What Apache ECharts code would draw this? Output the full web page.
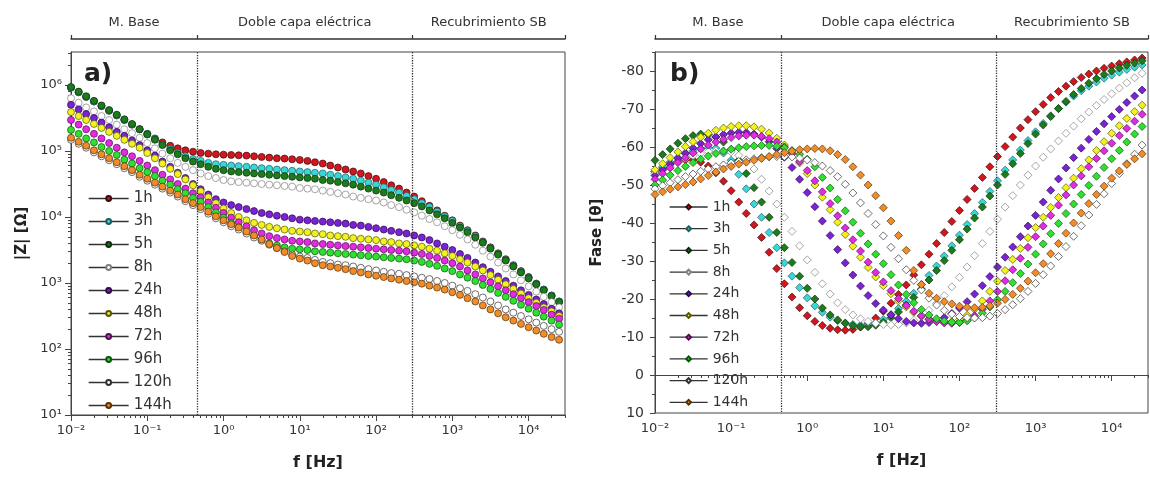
<!DOCTYPE html>
<html>
<head>
<meta charset="utf-8">
<script src="https://cdn.jsdelivr.net/npm/echarts@6/dist/echarts.min.js"></script>
<style>
  html, body { margin: 0; padding: 0; background: #fff; }
  #chart { width: 1150px; height: 486px; }
</style>
</head>
<body>
<div id="chart"></div>
<script>
// frecuencias medidas (Hz), 10 puntos por decada
const freq = [
  0.01, 0.0126, 0.0158, 0.02, 0.0251, 0.0316, 0.0398, 0.0501, 0.0631, 0.0794,
  0.1, 0.126, 0.158, 0.2, 0.251, 0.316, 0.398, 0.501, 0.631, 0.794,
  1, 1.26, 1.58, 2, 2.51, 3.16, 3.98, 5.01, 6.31, 7.94,
  10, 12.6, 15.8, 20, 25.1, 31.6, 39.8, 50.1, 63.1, 79.4,
  100, 126, 158, 200, 251, 316, 398, 501, 631, 794,
  1000, 1260, 1580, 2000, 2510, 3160, 3980, 5010, 6310, 7940,
  10000, 12600, 15800, 20000, 25100
];

const names = ['1h', '3h', '5h', '8h', '24h', '48h', '72h', '96h', '120h', '144h'];

// log10 |Z| (ohm) leidos de la figura a)
const logZ_1h = [
  5.96, 5.89, 5.82, 5.75, 5.68, 5.61, 5.54, 5.47, 5.40, 5.33,
  5.26, 5.19, 5.13, 5.08, 5.04, 5.01, 4.99, 4.97, 4.96, 4.95,
  4.945, 4.94, 4.935, 4.93, 4.92, 4.91, 4.90, 4.89, 4.885, 4.875,
  4.865, 4.85, 4.83, 4.81, 4.78, 4.75, 4.72, 4.69, 4.66, 4.62,
  4.58, 4.53, 4.48, 4.43, 4.37, 4.31, 4.24, 4.17, 4.10, 4.02,
  3.95, 3.87, 3.80, 3.72, 3.63, 3.54, 3.45, 3.36, 3.27, 3.18,
  3.09, 2.99, 2.90, 2.81, 2.72
];
const logZ_3h = [
  5.96, 5.89, 5.82, 5.75, 5.68, 5.61, 5.54, 5.47, 5.40, 5.33,
  5.26, 5.18, 5.10, 5.03, 4.97, 4.92, 4.88, 4.85, 4.82, 4.80,
  4.79, 4.78, 4.77, 4.76, 4.75, 4.74, 4.73, 4.72, 4.71, 4.70,
  4.69, 4.68, 4.67, 4.66, 4.64, 4.62, 4.60, 4.58, 4.55, 4.52,
  4.49, 4.45, 4.41, 4.37, 4.32, 4.27, 4.21, 4.15, 4.08, 4.01,
  3.94, 3.86, 3.79, 3.71, 3.62, 3.53, 3.44, 3.35, 3.26, 3.17,
  3.08, 2.99, 2.90, 2.81, 2.72
];
const logZ_5h = [
  5.97, 5.90, 5.83, 5.76, 5.69, 5.62, 5.55, 5.48, 5.41, 5.33,
  5.25, 5.17, 5.09, 5.01, 4.95, 4.89, 4.84, 4.80, 4.76, 4.73,
  4.71, 4.69, 4.68, 4.67, 4.66, 4.65, 4.64, 4.63, 4.62, 4.61,
  4.60, 4.59, 4.58, 4.56, 4.55, 4.53, 4.51, 4.49, 4.46, 4.43,
  4.40, 4.37, 4.33, 4.29, 4.25, 4.21, 4.16, 4.10, 4.04, 3.98,
  3.91, 3.84, 3.77, 3.69, 3.61, 3.52, 3.43, 3.34, 3.25, 3.16,
  3.07, 2.98, 2.89, 2.80, 2.71
];
const logZ_8h = [
  5.80, 5.73, 5.66, 5.60, 5.53, 5.47, 5.40, 5.33, 5.27, 5.20,
  5.12, 5.04, 4.96, 4.89, 4.82, 4.76, 4.71, 4.66, 4.62, 4.59,
  4.56, 4.54, 4.53, 4.52, 4.51, 4.50, 4.49, 4.48, 4.47, 4.46,
  4.44, 4.43, 4.42, 4.40, 4.38, 4.36, 4.34, 4.31, 4.29, 4.27,
  4.25, 4.22, 4.18, 4.15, 4.11, 4.07, 4.02, 3.97, 3.92, 3.86,
  3.80, 3.73, 3.66, 3.58, 3.49, 3.40, 3.31, 3.22, 3.13, 3.04,
  2.95, 2.87, 2.79, 2.71, 2.63
];
const logZ_24h = [
  5.70, 5.63, 5.56, 5.50, 5.43, 5.36, 5.29, 5.23, 5.16, 5.09,
  5.01, 4.93, 4.84, 4.76, 4.67, 4.59, 4.50, 4.42, 4.34, 4.27,
  4.22, 4.18, 4.15, 4.12, 4.09, 4.06, 4.04, 4.02, 4.00, 3.98,
  3.96, 3.95, 3.94, 3.93, 3.92, 3.91, 3.90, 3.88, 3.87, 3.85,
  3.83, 3.81, 3.79, 3.77, 3.75, 3.72, 3.69, 3.65, 3.60, 3.55,
  3.50, 3.44, 3.38, 3.31, 3.24, 3.17, 3.10, 3.03, 2.96, 2.89,
  2.82, 2.75, 2.68, 2.61, 2.54
];
const logZ_48h = [
  5.59, 5.53, 5.47, 5.41, 5.35, 5.29, 5.23, 5.17, 5.11, 5.05,
  4.97, 4.89, 4.81, 4.73, 4.65, 4.57, 4.48, 4.39, 4.30, 4.21,
  4.13, 4.06, 4.00, 3.95, 3.91, 3.88, 3.85, 3.83, 3.81, 3.79,
  3.78, 3.77, 3.75, 3.74, 3.72, 3.71, 3.70, 3.68, 3.67, 3.66,
  3.65, 3.63, 3.62, 3.60, 3.59, 3.57, 3.55, 3.52, 3.49, 3.45,
  3.41, 3.36, 3.31, 3.25, 3.19, 3.12, 3.05, 2.98, 2.91, 2.84,
  2.77, 2.70, 2.63, 2.57, 2.50
];
const logZ_72h = [
  5.47, 5.40, 5.33, 5.26, 5.19, 5.12, 5.05, 4.98, 4.92, 4.85,
  4.78, 4.71, 4.64, 4.57, 4.50, 4.43, 4.36, 4.30, 4.22, 4.14,
  4.06, 3.99, 3.92, 3.86, 3.80, 3.75, 3.71, 3.68, 3.66, 3.64,
  3.63, 3.62, 3.60, 3.59, 3.58, 3.57, 3.56, 3.55, 3.54, 3.53,
  3.52, 3.51, 3.50, 3.49, 3.48, 3.46, 3.44, 3.41, 3.38, 3.34,
  3.30, 3.25, 3.19, 3.13, 3.07, 3.01, 2.95, 2.89, 2.83, 2.77,
  2.71, 2.65, 2.59, 2.52, 2.46
];
const logZ_96h = [
  5.32, 5.26, 5.19, 5.13, 5.06, 5.00, 4.94, 4.87, 4.81, 4.74,
  4.68, 4.62, 4.55, 4.49, 4.42, 4.36, 4.29, 4.23, 4.15, 4.07,
  3.99, 3.91, 3.84, 3.77, 3.71, 3.65, 3.60, 3.57, 3.54, 3.52,
  3.51, 3.50, 3.48, 3.47, 3.46, 3.45, 3.44, 3.43, 3.42, 3.41,
  3.40, 3.39, 3.38, 3.37, 3.36, 3.34, 3.32, 3.29, 3.26, 3.22,
  3.18, 3.13, 3.08, 3.03, 2.97, 2.91, 2.85, 2.79, 2.73, 2.67,
  2.61, 2.55, 2.49, 2.43, 2.37
];
const logZ_120h = [
  5.17, 5.11, 5.05, 4.98, 4.92, 4.86, 4.80, 4.74, 4.68, 4.61,
  4.55, 4.49, 4.43, 4.37, 4.31, 4.24, 4.18, 4.12, 4.05, 3.98,
  3.92, 3.86, 3.81, 3.75, 3.69, 3.64, 3.58, 3.53, 3.48, 3.43,
  3.40, 3.38, 3.35, 3.32, 3.30, 3.28, 3.27, 3.25, 3.23, 3.21,
  3.19, 3.17, 3.15, 3.14, 3.12, 3.10, 3.08, 3.06, 3.03, 3.00,
  2.96, 2.92, 2.88, 2.83, 2.78, 2.72, 2.66, 2.60, 2.55, 2.50,
  2.45, 2.40, 2.35, 2.30, 2.26
];
const logZ_144h = [
  5.20, 5.14, 5.08, 5.01, 4.95, 4.89, 4.83, 4.77, 4.71, 4.64,
  4.58, 4.52, 4.46, 4.40, 4.34, 4.27, 4.21, 4.15, 4.08, 4.01,
  3.95, 3.89, 3.84, 3.78, 3.72, 3.66, 3.59, 3.53, 3.47, 3.41,
  3.37, 3.34, 3.30, 3.27, 3.25, 3.23, 3.21, 3.18, 3.16, 3.13,
  3.11, 3.09, 3.07, 3.05, 3.03, 3.01, 2.99, 2.96, 2.93, 2.90,
  2.86, 2.82, 2.77, 2.72, 2.66, 2.60, 2.54, 2.48, 2.43, 2.38,
  2.33, 2.28, 2.23, 2.18, 2.14
];

// fase (grados) leida de la figura b)
const fase_1h = [
  -53.5, -54.5, -55.5, -56.2, -56.6, -56.6, -56.0, -55.0, -53.2, -51.0,
  -48.5, -45.5, -42.5, -39.5, -36.2, -32.3, -28.0, -24.0, -20.5, -17.7,
  -15.6, -14.1, -13.0, -12.3, -11.9, -11.8, -12.0, -12.6, -13.6, -15.0,
  -16.8, -18.9, -21.2, -23.7, -26.3, -29.0, -31.8, -34.6, -37.5, -40.4,
  -43.3, -46.2, -49.1, -52.0, -54.8, -57.5, -60.1, -62.6, -65.0, -67.2,
  -69.3, -71.2, -73.0, -74.6, -76.0, -77.2, -78.3, -79.2, -80.0, -80.7,
  -81.3, -81.9, -82.4, -82.9, -83.4
];
const fase_3h = [
  -53.5, -54.8, -56.0, -57.2, -58.2, -59.0, -59.6, -59.9, -59.7, -58.4,
  -56.5, -52.8, -49.0, -45.0, -41.5, -37.5, -33.5, -29.5, -26.0, -23.0,
  -20.3, -18.2, -16.5, -15.2, -14.3, -13.7, -13.3, -13.1, -13.2, -13.7,
  -14.6, -15.9, -17.5, -19.4, -21.5, -23.8, -26.2, -28.7, -31.3, -34.0,
  -36.8, -39.6, -42.5, -45.4, -48.3, -51.1, -53.9, -56.6, -59.2, -61.7,
  -64.0, -66.2, -68.2, -70.1, -71.8, -73.4, -74.8, -76.0, -77.1, -78.1,
  -78.9, -79.7, -80.4, -81.0, -81.6
];
const fase_5h = [
  -56.5, -58.0, -59.5, -61.0, -62.2, -63.0, -63.4, -63.3, -62.6, -61.3,
  -59.3, -56.5, -53.0, -49.3, -45.5, -41.5, -37.5, -33.5, -29.6, -26.0,
  -22.8, -20.0, -17.6, -15.8, -14.5, -13.6, -13.0, -12.7, -12.7, -13.1,
  -13.9, -15.1, -16.6, -18.4, -20.4, -22.6, -25.0, -27.5, -30.1, -32.8,
  -35.6, -38.4, -41.3, -44.2, -47.1, -50.0, -52.8, -55.6, -58.3, -60.9,
  -63.4, -65.8, -68.0, -70.1, -72.0, -73.8, -75.4, -76.8, -78.0, -79.1,
  -80.0, -80.8, -81.5, -82.1, -82.7
];
const fase_8h = [
  -53.0, -54.0, -55.0, -56.0, -56.9, -57.7, -58.3, -58.8, -59.0, -59.0,
  -58.7, -57.8, -56.3, -54.2, -51.5, -48.4, -45.0, -41.5, -37.8, -34.0,
  -30.3, -27.0, -24.0, -21.3, -19.0, -17.2, -15.8, -14.8, -14.1, -13.6,
  -13.3, -13.2, -13.3, -13.7, -14.4, -15.5, -17.0, -18.8, -20.9, -23.2,
  -25.7, -28.4, -31.4, -34.6, -37.8, -41.0, -44.2, -47.2, -50.0, -52.6,
  -55.0, -57.3, -59.5, -61.6, -63.6, -65.5, -67.4, -69.2, -70.9, -72.5,
  -74.0, -75.5, -76.9, -78.2, -79.4
];
const fase_24h = [
  -52.5, -54.0, -55.5, -57.0, -58.4, -59.7, -60.9, -61.9, -62.7, -63.3,
  -63.7, -63.9, -63.8, -63.4, -62.6, -61.4, -59.6, -57.3, -54.6, -51.5,
  -48.0, -44.3, -40.5, -36.7, -33.0, -29.5, -26.3, -23.4, -20.9, -18.8,
  -17.1, -15.8, -14.8, -14.1, -13.7, -13.6, -13.8, -14.3, -15.1, -16.2,
  -17.6, -19.3, -21.3, -23.5, -25.9, -28.4, -31.0, -33.7, -36.4, -39.2,
  -42.0, -45.5, -48.6, -51.6, -54.5, -57.2, -59.7, -62.0, -64.1, -66.1,
  -68.0, -69.9, -71.7, -73.4, -75.0
];
const fase_48h = [
  -54.0, -55.6, -57.2, -58.7, -60.1, -61.4, -62.6, -63.6, -64.4, -65.0,
  -65.4, -65.6, -65.6, -65.3, -64.7, -63.7, -62.3, -60.5, -58.3, -55.8,
  -53.0, -50.0, -46.8, -43.5, -40.2, -37.0, -33.9, -31.0, -28.3, -25.8,
  -23.5, -21.4, -19.5, -17.9, -16.5, -15.4, -14.6, -14.1, -13.9, -14.0,
  -14.6, -15.7, -17.3, -19.5, -22.0, -24.7, -27.5, -30.4, -33.3, -36.1,
  -38.8, -41.5, -44.1, -46.7, -49.3, -51.8, -54.3, -56.6, -59.1, -61.4,
  -63.6, -65.6, -67.5, -69.3, -71.0
];
const fase_72h = [
  -51.5, -53.0, -54.5, -55.9, -57.2, -58.4, -59.5, -60.5, -61.3, -62.0,
  -62.5, -62.9, -63.1, -63.1, -62.8, -62.2, -61.3, -60.0, -58.3, -56.2,
  -53.8, -51.1, -48.2, -45.1, -41.9, -38.7, -35.6, -32.6, -29.7, -27.0,
  -24.5, -22.2, -20.1, -18.3, -16.8, -15.6, -14.7, -14.1, -13.7, -13.6,
  -13.8, -14.4, -15.6, -17.3, -19.5, -22.0, -24.8, -27.7, -30.7, -33.6,
  -36.4, -39.2, -42.0, -44.7, -47.4, -50.0, -52.4, -54.8, -57.0, -59.0,
  -61.0, -63.0, -64.9, -66.8, -68.6
];
const fase_96h = [
  -50.0, -51.3, -52.6, -53.8, -54.9, -55.9, -56.8, -57.6, -58.3, -58.9,
  -59.4, -59.8, -60.1, -60.3, -60.4, -60.4, -60.2, -59.8, -59.1, -58.1,
  -56.8, -54.8, -52.0, -49.2, -46.2, -43.2, -40.2, -37.3, -34.5, -31.8,
  -29.3, -26.4, -23.7, -21.2, -19.0, -17.2, -15.8, -14.8, -14.2, -13.9,
  -13.9, -14.3, -15.1, -16.3, -17.9, -19.8, -22.0, -24.3, -26.7, -29.2,
  -31.8, -34.5, -37.2, -39.9, -42.5, -45.0, -47.5, -49.9, -52.3, -54.6,
  -56.9, -59.1, -61.3, -63.4, -65.4
];
const fase_120h = [
  -49.0, -49.8, -50.6, -51.4, -52.2, -52.9, -53.6, -54.2, -54.8, -55.3,
  -55.8, -56.2, -56.6, -56.9, -57.2, -57.4, -57.5, -57.5, -57.4, -57.1,
  -56.6, -55.9, -55.0, -53.8, -52.2, -50.2, -47.9, -45.3, -42.5, -39.6,
  -36.6, -33.6, -30.6, -27.7, -24.9, -22.4, -20.2, -18.4, -17.0, -16.0,
  -15.4, -15.1, -15.0, -15.1, -15.5, -16.2, -17.2, -18.5, -20.1, -22.0,
  -24.1, -26.4, -28.7, -31.2, -33.8, -36.5, -39.3, -42.1, -44.9, -47.7,
  -50.4, -53.0, -55.6, -58.1, -60.5
];
const fase_144h = [
  -47.5, -48.2, -48.9, -49.5, -50.1, -50.8, -51.6, -52.5, -53.4, -54.2,
  -54.9, -55.5, -56.0, -56.5, -57.0, -57.5, -58.0, -58.5, -58.9, -59.3,
  -59.5, -59.6, -59.5, -59.0, -58.0, -56.7, -54.8, -52.6, -50.0, -47.2,
  -44.0, -40.5, -36.7, -32.8, -27.5, -23.8, -21.5, -20.2, -19.3, -18.7,
  -18.1, -17.8, -17.7, -17.8, -18.2, -18.9, -19.9, -21.2, -22.8, -24.7,
  -26.9, -29.3, -31.9, -34.6, -37.3, -40.0, -42.6, -45.1, -47.5, -49.7,
  -51.8, -53.7, -55.4, -56.9, -58.2
];

const zData = [logZ_1h, logZ_3h, logZ_5h, logZ_8h, logZ_24h, logZ_48h, logZ_72h, logZ_96h, logZ_120h, logZ_144h];
const faseData = [fase_1h, fase_3h, fase_5h, fase_8h, fase_24h, fase_48h, fase_72h, fase_96h, fase_120h, fase_144h];

// zonas del espectro
const zonas = ['M. Base', 'Doble capa eléctrica', 'Recubrimiento SB'];
const zonaCentros = [0.067, 11.6, 3000];
const limites = [0.45, 300];

const fills = ['#d3161e', '#38d8d8', '#1c7c1c', '#ffffff', '#7b22d6', '#f2f21e', '#e22ce2', '#30e030', '#ffffff', '#f08c2a'];
const bordes = ['#3a0a0a', '#245a5a', '#0c2c0c', '#808080', '#2a0a4a', '#55550a', '#501050', '#0f500f', '#303030', '#553008'];

const fMin = 0.01, fMax = 30000;
const zMin = 10, zMax = 3162278;

const sup = { '-': '⁻', '0': '⁰', '1': '¹', '2': '²', '3': '³', '4': '⁴', '5': '⁵', '6': '⁶', '7': '⁷', '8': '⁸', '9': '⁹' };
function potLabel(v) {
  const e = String(Math.round(Math.log10(v)));
  return '10' + e.split('').map(c => sup[c]).join('');
}
function decadas(a, b) {
  const out = [];
  for (let e = a; e <= b; e++) out.push(Math.pow(10, e));
  return out;
}
function menores(a, b, max) {
  const out = [];
  for (let e = a; e <= b; e++) {
    for (let m = 2; m <= 9; m++) {
      const v = m * Math.pow(10, e);
      if (v <= max) out.push(v);
    }
  }
  return out;
}

const font = 'DejaVu Sans';
const ejeColor = '#444';

// rejillas: 0 y 1 con los datos, 2 y 3 superpuestas solo para las marcas menores
const rectA = { left: 71, top: 52, width: 494, height: 363 };
const rectB = { left: 655, top: 52, width: 493, height: 361 };

function ejesX(gi) {
  return [
    {
      type: 'log', gridIndex: gi, min: fMin, max: fMax, position: 'bottom',
      name: 'f [Hz]', nameLocation: 'middle', nameGap: 40, nameMoveOverlap: false,
      nameTextStyle: { fontSize: 16, fontWeight: 'bold', color: '#222', fontFamily: font },
      axisLine: { lineStyle: { color: ejeColor, width: 1 } },
      axisTick: { customValues: decadas(-2, 4), length: 6, lineStyle: { color: ejeColor } },
      axisLabel: { customValues: decadas(-2, 4), formatter: potLabel, fontSize: 13, color: '#333', margin: 9, fontFamily: font },
      splitLine: { show: false }
    },
    {
      type: 'log', gridIndex: gi, min: fMin, max: fMax, position: 'top', offset: 13,
      axisLine: { lineStyle: { color: '#333', width: 1.5 } },
      axisTick: { customValues: [fMin].concat(limites, [fMax]), length: 4, lineStyle: { color: '#333', width: 1.2 } },
      axisLabel: {
        customValues: zonaCentros, margin: 10, fontSize: 13, color: '#333', fontFamily: font,
        formatter: function (v) {
          let k = 0;
          zonaCentros.forEach((c, i) => { if (Math.abs(Math.log10(c) - Math.log10(v)) < Math.abs(Math.log10(zonaCentros[k]) - Math.log10(v))) k = i; });
          return zonas[k];
        }
      },
      splitLine: { show: false }
    }
  ];
}
function ejeXMenor(gi) {
  return {
    type: 'log', gridIndex: gi, min: fMin, max: fMax, position: 'bottom',
    axisLine: { show: false },
    axisTick: { customValues: menores(-2, 4, fMax), length: 3, lineStyle: { color: ejeColor } },
    axisLabel: { show: false },
    splitLine: { show: false }
  };
}

const faseTicks = [-80, -70, -60, -50, -40, -30, -20, -10, 0, 10];
const faseMenores = [-85, -75, -65, -55, -45, -35, -25, -15, -5, 5];

const yAxes = [
  {
    type: 'log', gridIndex: 0, min: zMin, max: zMax, position: 'left',
    name: '|Z| [Ω]', nameLocation: 'middle', nameGap: 41, nameRotate: 90, nameMoveOverlap: false,
    nameTextStyle: { fontSize: 15, fontWeight: 'bold', color: '#222', fontFamily: font },
    axisLine: { show: true, lineStyle: { color: ejeColor, width: 1 } },
    axisTick: { show: true, customValues: decadas(1, 6), length: 6, lineStyle: { color: ejeColor } },
    axisLabel: { customValues: decadas(1, 6), formatter: potLabel, fontSize: 13, color: '#333', margin: 9, fontFamily: font },
    splitLine: { show: false }
  },
  {
    type: 'value', gridIndex: 1, min: -85, max: 10, inverse: true, position: 'left',
    name: 'Fase [θ]', nameLocation: 'middle', nameGap: 50, nameRotate: 90, nameMoveOverlap: false,
    nameTextStyle: { fontSize: 15, fontWeight: 'bold', color: '#222', fontFamily: font },
    axisLine: { show: true, lineStyle: { color: ejeColor, width: 1 } },
    axisTick: { show: true, customValues: faseTicks, length: 5, lineStyle: { color: ejeColor } },
    axisLabel: { customValues: faseTicks, fontSize: 14, color: '#333', margin: 11, fontFamily: font },
    splitLine: { show: false }
  },
  {
    type: 'log', gridIndex: 2, min: zMin, max: zMax, position: 'left',
    axisLine: { show: false },
    axisTick: { show: true, customValues: menores(1, 6, zMax), length: 3, lineStyle: { color: ejeColor } },
    axisLabel: { show: false },
    splitLine: { show: false }
  },
  {
    type: 'value', gridIndex: 3, min: -85, max: 10, inverse: true, position: 'left',
    axisLine: { show: false },
    axisTick: { show: true, customValues: faseMenores, length: 3, lineStyle: { color: ejeColor } },
    axisLabel: { show: false },
    splitLine: { show: false }
  }
];

const lineas = {
  silent: true, symbol: ['none', 'none'], label: { show: false },
  lineStyle: { type: 'dotted', color: '#333', width: 1.3 },
  emphasis: { disabled: true },
  data: limites.map(v => ({ xAxis: v }))
};

const series = [];
names.forEach((n, i) => {
  series.push({
    name: n, type: 'line', xAxisIndex: 0, yAxisIndex: 0,
    data: freq.map((f, k) => [f, Math.pow(10, zData[i][k])]),
    symbol: 'circle', symbolSize: 7, showSymbol: true,
    itemStyle: { color: fills[i], borderColor: bordes[i], borderWidth: 0.7 },
    lineStyle: { width: 0, opacity: 0 },
    markLine: i === 0 ? lineas : undefined,
    animation: false
  });
});
names.forEach((n, i) => {
  series.push({
    name: 'b-' + n, type: 'line', xAxisIndex: 2, yAxisIndex: 1,
    data: freq.map((f, k) => [f, faseData[i][k]]),
    symbol: 'diamond', symbolSize: 8, showSymbol: true,
    itemStyle: { color: fills[i], borderColor: bordes[i], borderWidth: 0.7 },
    lineStyle: { width: 0, opacity: 0 },
    markLine: i === 0 ? lineas : undefined,
    animation: false
  });
});

const leyenda = {
  orient: 'vertical', itemWidth: 40, itemHeight: 6,
  lineStyle: { color: '#333', width: 1.3, opacity: 1, type: 'solid' },
  textStyle: { fontFamily: font, color: '#333' },
  selectedMode: false
};

const gridBase = { containLabel: false, outerBoundsMode: 'none' };

const option = {
  backgroundColor: '#fff',
  animation: false,
  textStyle: { fontFamily: font },
  title: [
    { text: 'a)', left: 84, top: 62, padding: 0, textStyle: { fontSize: 25, fontWeight: 'bold', color: '#222', fontFamily: font } },
    { text: 'b)', left: 670, top: 62, padding: 0, textStyle: { fontSize: 25, fontWeight: 'bold', color: '#222', fontFamily: font } }
  ],
  grid: [
    Object.assign({ show: true, borderColor: ejeColor, borderWidth: 1 }, gridBase, rectA),
    Object.assign({ show: true, borderColor: ejeColor, borderWidth: 1 }, gridBase, rectB),
    Object.assign({ show: false }, gridBase, rectA),
    Object.assign({ show: false }, gridBase, rectB)
  ],
  xAxis: ejesX(0).concat(ejesX(1), [ejeXMenor(2), ejeXMenor(3)]),
  yAxis: yAxes,
  legend: [
    Object.assign({}, leyenda, {
      data: names, left: 83, top: 186, itemGap: 8,
      textStyle: { fontFamily: font, color: '#333', fontSize: 15, lineHeight: 15 }
    }),
    Object.assign({}, leyenda, {
      data: names.map(n => 'b-' + n), left: 664, top: 195, itemGap: 7.7, itemWidth: 38,
      formatter: n => n.slice(2),
      textStyle: { fontFamily: font, color: '#333', fontSize: 14, lineHeight: 14 }
    })
  ],
  series: series
};

const chart = echarts.init(document.getElementById('chart'));
chart.setOption(option);
</script>
</body>
</html>
